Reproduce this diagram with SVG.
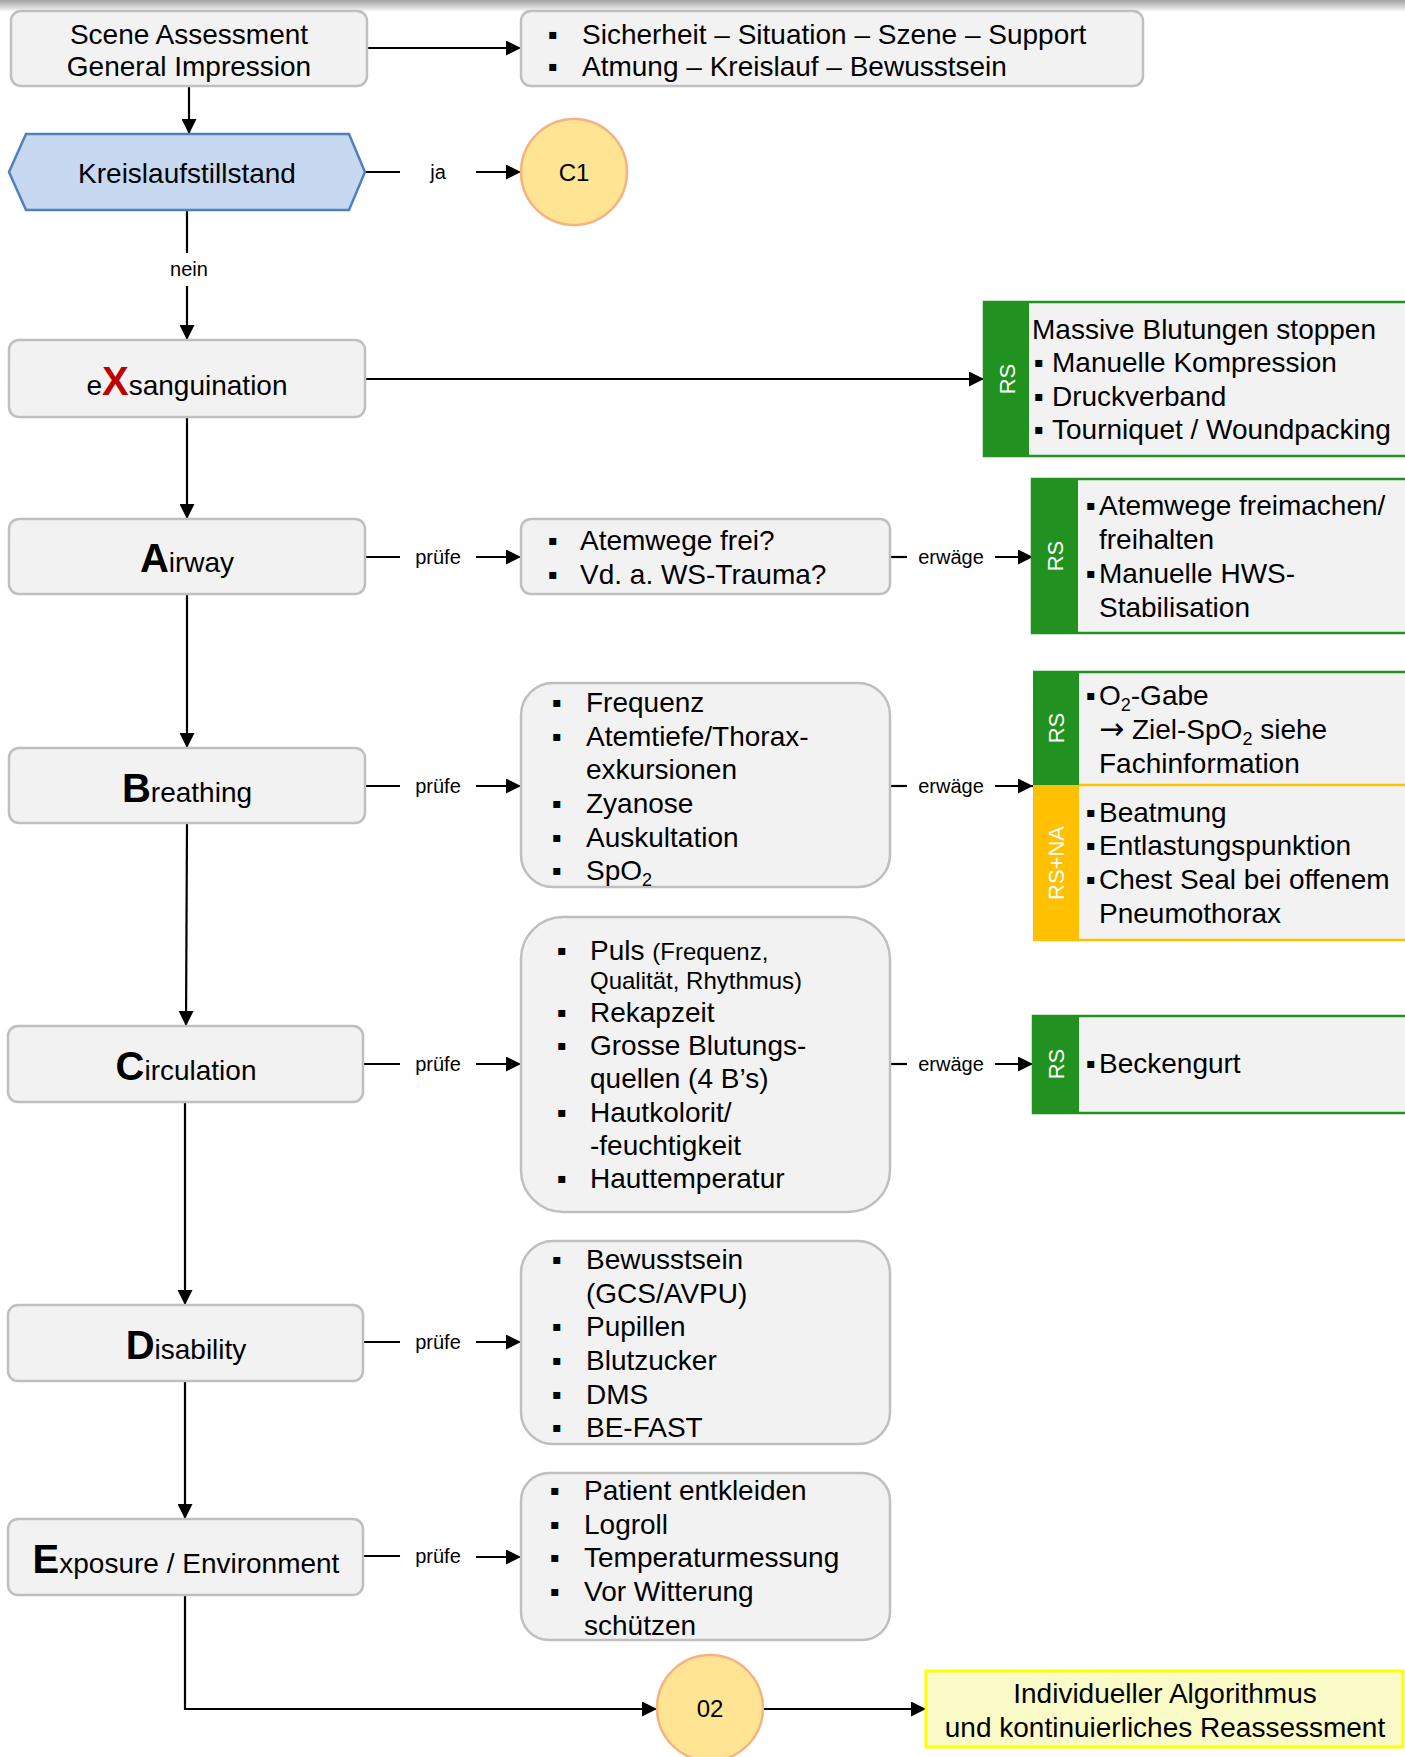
<svg xmlns="http://www.w3.org/2000/svg" width="1405" height="1757" viewBox="0 0 1405 1757">
<defs>
<linearGradient id="topg" x1="0" y1="0" x2="0" y2="1">
<stop offset="0" stop-color="#a3a3a3"/>
<stop offset="0.5" stop-color="#cdcdcd"/>
<stop offset="1" stop-color="#ffffff"/>
</linearGradient>
<marker id="ah" markerWidth="15" markerHeight="15" refX="15" refY="7.5" orient="auto" markerUnits="userSpaceOnUse">
<path d="M0,0 L15,7.5 L0,15 z" fill="#000"/>
</marker>
<style>
.n{fill:#f2f2f2;stroke:#bfbfbf;stroke-width:2.5}
.t{font-family:"Liberation Sans",Arial,sans-serif;font-size:28px;fill:#000}
.m{text-anchor:middle}
.s{font-family:"Liberation Sans",Arial,sans-serif;font-size:20px;fill:#000;text-anchor:middle}
.big{font-size:40px;font-weight:bold}
.red{fill:#c00000}
.c{stroke:#000;stroke-width:2.2;fill:none}
.a{marker-end:url(#ah)}
.w{font-family:"Liberation Sans",Arial,sans-serif;font-size:22px;fill:#fff;text-anchor:middle}
.g{fill:#21921f}
.y{fill:#ffc000}
.rb{fill:#f2f2f2;stroke:#21921f;stroke-width:2.5}
.b{font-family:"Liberation Sans",Arial,sans-serif;font-size:28px;fill:#000}
.sm{font-size:24px}
.sub{font-size:18px}
.arr{font-family:"DejaVu Sans",sans-serif;font-size:30px}
.circ{fill:#fee493;stroke:#f6b281;stroke-width:2.5}
</style>
</defs>
<rect x="0" y="0" width="1405" height="1757" fill="#fff"/>
<rect x="0" y="0" width="1405" height="12" fill="url(#topg)"/>

<g id="connectors">
<line class="c a" x1="367" y1="48" x2="521" y2="48"/>
<line class="c a" x1="189" y1="86" x2="189" y2="134"/>
<line class="c" x1="365" y1="172" x2="400" y2="172"/>
<text class="s" x="438" y="179">ja</text>
<line class="c a" x1="476" y1="172" x2="521" y2="172"/>
<line class="c" x1="187" y1="210" x2="187" y2="253"/>
<text class="s" x="189" y="276">nein</text>
<line class="c a" x1="187" y1="286" x2="187" y2="340"/>
<line class="c a" x1="365" y1="379" x2="984" y2="379"/>
<line class="c a" x1="187" y1="417" x2="187" y2="519"/>
<line class="c" x1="365" y1="557" x2="400" y2="557"/>
<text class="s" x="438" y="564">prüfe</text>
<line class="c a" x1="476" y1="557" x2="521" y2="557"/>
<line class="c" x1="890" y1="557" x2="907" y2="557"/>
<text class="s" x="951" y="564">erwäge</text>
<line class="c a" x1="995" y1="557" x2="1033" y2="557"/>
<line class="c a" x1="187" y1="594" x2="187" y2="748"/>
<line class="c" x1="365" y1="786" x2="400" y2="786"/>
<text class="s" x="438" y="793">prüfe</text>
<line class="c a" x1="476" y1="786" x2="521" y2="786"/>
<line class="c" x1="890" y1="786" x2="907" y2="786"/>
<text class="s" x="951" y="793">erwäge</text>
<line class="c a" x1="995" y1="786" x2="1033" y2="786"/>
<line class="c a" x1="187" y1="823" x2="186" y2="1026"/>
<line class="c" x1="363" y1="1064" x2="400" y2="1064"/>
<text class="s" x="438" y="1071">prüfe</text>
<line class="c a" x1="476" y1="1064" x2="521" y2="1064"/>
<line class="c" x1="890" y1="1064" x2="907" y2="1064"/>
<text class="s" x="951" y="1071">erwäge</text>
<line class="c a" x1="995" y1="1064" x2="1033" y2="1064"/>
<line class="c a" x1="185" y1="1102" x2="185" y2="1305"/>
<line class="c" x1="363" y1="1342" x2="400" y2="1342"/>
<text class="s" x="438" y="1349">prüfe</text>
<line class="c a" x1="476" y1="1342" x2="521" y2="1342"/>
<line class="c a" x1="185" y1="1381" x2="185" y2="1519"/>
<line class="c" x1="363" y1="1556" x2="400" y2="1556"/>
<text class="s" x="438" y="1563">prüfe</text>
<line class="c a" x1="476" y1="1557" x2="521" y2="1557"/>
<polyline class="c a" points="185,1595 185,1709 657,1709"/>
<line class="c a" x1="764" y1="1709" x2="926" y2="1709"/>
</g>

<g id="node-scene">
<rect class="n" x="11" y="11" width="356" height="75" rx="10"/>
<text class="t m" x="189" y="44">Scene Assessment</text>
<text class="t m" x="189" y="76">General Impression</text>
</g>

<g id="node-sicherheit">
<rect class="n" x="521" y="11" width="622" height="75" rx="10"/>
<text class="b" x="548" y="44">▪</text>
<text class="t" x="582" y="44">Sicherheit – Situation – Szene – Support</text>
<text class="b" x="548" y="76">▪</text>
<text class="t" x="582" y="76">Atmung – Kreislauf – Bewusstsein</text>
</g>

<g id="node-kreislaufstillstand">
<polygon points="9,172 26,134 349,134 365,172 349,210 26,210" fill="#c6d9f1" stroke="#4f81bd" stroke-width="2.5"/>
<text class="t m" x="187" y="183">Kreislaufstillstand</text>
</g>

<g id="node-c1">
<circle class="circ" cx="574" cy="172" r="53"/>
<text class="t m" x="574" y="181" style="font-size:24px">C1</text>
</g>

<g id="node-exsanguination">
<rect class="n" x="9" y="340" width="356" height="77" rx="10"/>
<text class="t m" x="187" y="395">e<tspan class="big red">X</tspan>sanguination</text>
</g>

<g id="node-massive">
<rect class="rb" x="984" y="302" width="440" height="154"/>
<rect class="g" x="984" y="301" width="45" height="156"/>
<text class="w" transform="translate(1015,379) rotate(-90)">RS</text>
<text class="t" x="1032" y="339">Massive Blutungen stoppen</text>
<text class="b" x="1034" y="372">▪</text>
<text class="t" x="1052" y="372">Manuelle Kompression</text>
<text class="b" x="1034" y="406">▪</text>
<text class="t" x="1052" y="406">Druckverband</text>
<text class="b" x="1034" y="439">▪</text>
<text class="t" x="1052" y="439">Tourniquet / Woundpacking</text>
</g>

<g id="node-airway">
<rect class="n" x="9" y="519" width="356" height="75" rx="10"/>
<text class="t m" x="187" y="572"><tspan class="big">A</tspan>irway</text>
</g>

<g id="node-airway-check">
<rect class="n" x="521" y="519" width="369" height="75" rx="10"/>
<text class="b" x="548" y="550">▪</text>
<text class="t" x="580" y="550">Atemwege frei?</text>
<text class="b" x="548" y="584">▪</text>
<text class="t" x="580" y="584">Vd. a. WS-Trauma?</text>
</g>

<g id="node-airway-rs">
<rect class="rb" x="1032" y="479" width="392" height="154"/>
<rect class="g" x="1032" y="478" width="46" height="156"/>
<text class="w" transform="translate(1063,556) rotate(-90)">RS</text>
<text class="b" x="1086" y="515">▪</text>
<text class="t" x="1099" y="515">Atemwege freimachen/</text>
<text class="t" x="1099" y="549">freihalten</text>
<text class="b" x="1086" y="583">▪</text>
<text class="t" x="1099" y="583">Manuelle HWS-</text>
<text class="t" x="1099" y="617">Stabilisation</text>
</g>

<g id="node-breathing">
<rect class="n" x="9" y="748" width="356" height="75" rx="10"/>
<text class="t m" x="187" y="802"><tspan class="big">B</tspan>reathing</text>
</g>

<g id="node-breathing-check">
<rect class="n" x="521" y="683" width="369" height="204" rx="32"/>
<text class="b" x="552" y="712">▪</text>
<text class="t" x="586" y="712">Frequenz</text>
<text class="b" x="552" y="746">▪</text>
<text class="t" x="586" y="746">Atemtiefe/Thorax-</text>
<text class="t" x="586" y="779">exkursionen</text>
<text class="b" x="552" y="813">▪</text>
<text class="t" x="586" y="813">Zyanose</text>
<text class="b" x="552" y="847">▪</text>
<text class="t" x="586" y="847">Auskultation</text>
<text class="b" x="552" y="880">▪</text>
<text class="t" x="586" y="880">SpO<tspan class="sub" dy="6">2</tspan></text>
</g>

<g id="node-breathing-rs">
<rect x="1033" y="672" width="392" height="268" fill="#f2f2f2"/>
<line x1="1033" y1="672" x2="1405" y2="672" stroke="#21921f" stroke-width="2.5"/>
<line x1="1033" y1="785" x2="1405" y2="785" stroke="#ffc000" stroke-width="2.5"/>
<line x1="1033" y1="940" x2="1405" y2="940" stroke="#ffc000" stroke-width="2.5"/>
<rect class="g" x="1033" y="671" width="46" height="114"/>
<rect class="y" x="1033" y="785" width="46" height="156"/>
<text class="w" transform="translate(1064,728) rotate(-90)">RS</text>
<text class="w" transform="translate(1064,863) rotate(-90)">RS+NA</text>
<text class="b" x="1086" y="705">▪</text>
<text class="t" x="1099" y="705">O<tspan class="sub" dy="6">2</tspan><tspan dy="-6">-Gabe</tspan></text>
<text class="t" x="1099" y="739"><tspan class="arr">→</tspan> Ziel-SpO<tspan class="sub" dy="6">2</tspan><tspan dy="-6"> siehe</tspan></text>
<text class="t" x="1099" y="773">Fachinformation</text>
<text class="b" x="1086" y="822">▪</text>
<text class="t" x="1099" y="822">Beatmung</text>
<text class="b" x="1086" y="855">▪</text>
<text class="t" x="1099" y="855">Entlastungspunktion</text>
<text class="b" x="1086" y="889">▪</text>
<text class="t" x="1099" y="889">Chest Seal bei offenem</text>
<text class="t" x="1099" y="923">Pneumothorax</text>
</g>

<g id="node-circulation">
<rect class="n" x="8" y="1026" width="355" height="76" rx="10"/>
<text class="t m" x="186" y="1080"><tspan class="big">C</tspan>irculation</text>
</g>

<g id="node-circulation-check">
<rect class="n" x="521" y="917" width="369" height="295" rx="42"/>
<text class="b" x="557" y="960">▪</text>
<text class="t" x="590" y="960">Puls <tspan class="sm">(Frequenz,</tspan></text>
<text class="t sm" x="590" y="989">Qualität, Rhythmus)</text>
<text class="b" x="557" y="1022">▪</text>
<text class="t" x="590" y="1022">Rekapzeit</text>
<text class="b" x="557" y="1055">▪</text>
<text class="t" x="590" y="1055">Grosse Blutungs-</text>
<text class="t" x="590" y="1088">quellen (4 B’s)</text>
<text class="b" x="557" y="1122">▪</text>
<text class="t" x="590" y="1122">Hautkolorit/</text>
<text class="t" x="590" y="1155">-feuchtigkeit</text>
<text class="b" x="557" y="1188">▪</text>
<text class="t" x="590" y="1188">Hauttemperatur</text>
</g>

<g id="node-circulation-rs">
<rect class="rb" x="1033" y="1016" width="392" height="97"/>
<rect class="g" x="1033" y="1015" width="46" height="99"/>
<text class="w" transform="translate(1064,1064) rotate(-90)">RS</text>
<text class="b" x="1086" y="1073">▪</text>
<text class="t" x="1099" y="1073">Beckengurt</text>
</g>

<g id="node-disability">
<rect class="n" x="8" y="1305" width="355" height="76" rx="10"/>
<text class="t m" x="186" y="1359"><tspan class="big">D</tspan>isability</text>
</g>

<g id="node-disability-check">
<rect class="n" x="521" y="1241" width="369" height="203" rx="32"/>
<text class="b" x="552" y="1269">▪</text>
<text class="t" x="586" y="1269">Bewusstsein</text>
<text class="t" x="586" y="1303">(GCS/AVPU)</text>
<text class="b" x="552" y="1336">▪</text>
<text class="t" x="586" y="1336">Pupillen</text>
<text class="b" x="552" y="1370">▪</text>
<text class="t" x="586" y="1370">Blutzucker</text>
<text class="b" x="552" y="1404">▪</text>
<text class="t" x="586" y="1404">DMS</text>
<text class="b" x="552" y="1437">▪</text>
<text class="t" x="586" y="1437">BE-FAST</text>
</g>

<g id="node-exposure">
<rect class="n" x="8" y="1519" width="355" height="76" rx="10"/>
<text class="t m" x="186" y="1573"><tspan class="big">E</tspan>xposure / Environment</text>
</g>

<g id="node-exposure-check">
<rect class="n" x="521" y="1473" width="369" height="167" rx="28"/>
<text class="b" x="550" y="1500">▪</text>
<text class="t" x="584" y="1500">Patient entkleiden</text>
<text class="b" x="550" y="1534">▪</text>
<text class="t" x="584" y="1534">Logroll</text>
<text class="b" x="550" y="1567">▪</text>
<text class="t" x="584" y="1567">Temperaturmessung</text>
<text class="b" x="550" y="1601">▪</text>
<text class="t" x="584" y="1601">Vor Witterung</text>
<text class="t" x="584" y="1635">schützen</text>
</g>

<g id="node-02">
<circle class="circ" cx="710" cy="1708" r="53"/>
<text class="t m" x="710" y="1717" style="font-size:24px">02</text>
</g>

<g id="node-individuell">
<rect x="926" y="1671" width="477" height="76" fill="#fafbc6" stroke="#ffff00" stroke-width="3"/>
<text class="t m" x="1165" y="1703">Individueller Algorithmus</text>
<text class="t m" x="1165" y="1737">und kontinuierliches Reassessment</text>
</g>
</svg>
